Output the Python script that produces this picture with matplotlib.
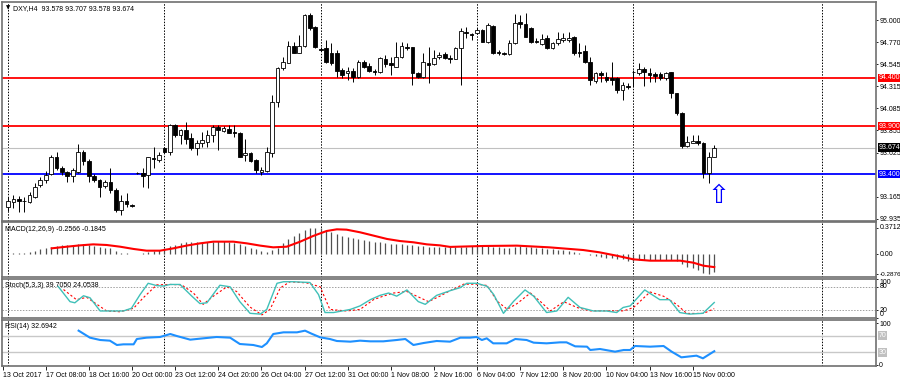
import matplotlib
matplotlib.use('Agg')
import matplotlib.pyplot as plt
from matplotlib.transforms import blended_transform_factory

# DXY H4 candles (bar 0 = 16 Oct 00:00)
opens = [93.062, 93.114, 93.138, 93.124, 93.114, 93.166, 93.287, 93.339, 93.401, 93.582,
         93.460, 93.419, 93.384, 93.426, 93.634, 93.537, 93.381, 93.339, 93.277, 93.322,
         93.235, 93.027, 93.124, 93.079, 93.415, 93.408, 93.391, 93.565, 93.547, 93.675,
         93.634, 93.911, 93.807, 93.859, 93.773, 93.668, 93.720, 93.738, 93.807, 93.894,
         93.852, 93.866, 93.838, 93.831, 93.599, 93.623, 93.547, 93.426, 93.436, 93.623,
         94.154, 94.500, 94.559, 94.733, 94.663, 94.733, 95.055, 94.927, 94.705, 94.709,
         94.663, 94.663, 94.483, 94.448, 94.476, 94.407, 94.563, 94.528, 94.476, 94.466,
         94.598, 94.552, 94.518, 94.622, 94.726, 94.719, 94.455, 94.407, 94.552, 94.546,
         94.622, 94.646, 94.604, 94.598, 94.709, 94.875, 94.857, 94.864, 94.899, 94.778,
         94.941, 94.674, 94.663, 94.646, 94.761, 94.986, 94.962, 94.917, 94.788, 94.754,
         94.819, 94.709, 94.761, 94.795, 94.795, 94.823, 94.674, 94.681, 94.570, 94.369,
         94.448, 94.414, 94.396, 94.396, 94.275, 94.320, 94.466, 94.455, 94.490, 94.448,
         94.442, 94.442, 94.396, 94.466, 94.240, 94.033, 93.693, 93.727, 93.748, 93.727,
         93.415, 93.578]
highs = [93.166, 93.183, 93.173, 93.166, 93.218, 93.311, 93.367, 93.436, 93.599, 93.634,
         93.485, 93.436, 93.460, 93.714, 93.651, 93.554, 93.401, 93.346, 93.339, 93.460,
         93.252, 93.183, 93.200, 93.086, 93.426, 93.460, 93.582, 93.686, 93.634, 93.686,
         93.921, 93.921, 93.866, 93.939, 93.825, 93.755, 93.842, 93.859, 93.911, 93.911,
         93.901, 93.911, 93.911, 93.842, 93.762, 93.634, 93.554, 93.478, 93.686, 94.223,
         94.518, 94.622, 94.788, 94.778, 94.847, 95.066, 95.073, 94.941, 94.726, 94.795,
         94.767, 94.691, 94.500, 94.518, 94.500, 94.587, 94.587, 94.552, 94.490, 94.615,
         94.639, 94.622, 94.771, 94.771, 94.761, 94.726, 94.466, 94.656, 94.719, 94.691,
         94.674, 94.674, 94.639, 94.726, 94.917, 94.934, 94.871, 94.917, 94.906, 94.968,
         94.951, 94.691, 94.674, 94.795, 95.066, 95.055, 95.073, 94.927, 94.812, 94.854,
         94.847, 94.778, 94.882, 94.864, 94.882, 94.837, 94.761, 94.743, 94.622, 94.466,
         94.476, 94.466, 94.570, 94.414, 94.362, 94.344, 94.483, 94.559, 94.518, 94.500,
         94.466, 94.466, 94.466, 94.466, 94.247, 94.050, 93.797, 93.807, 93.807, 93.738,
         93.634, 93.707]
lows = [93.020, 93.044, 93.010, 93.010, 93.096, 93.148, 93.270, 93.311, 93.391, 93.443,
        93.391, 93.322, 93.322, 93.408, 93.495, 93.322, 93.322, 93.166, 93.252, 93.207,
        93.010, 92.975, 93.055, 93.058, 93.401, 93.270, 93.252, 93.460, 93.530, 93.616,
        93.599, 93.790, 93.714, 93.714, 93.651, 93.599, 93.686, 93.686, 93.738, 93.651,
        93.842, 93.825, 93.790, 93.582, 93.540, 93.530, 93.415, 93.391, 93.426, 93.582,
        94.102, 94.483, 94.552, 94.656, 94.656, 94.726, 94.899, 94.709, 94.684, 94.552,
        94.535, 94.414, 94.396, 94.379, 94.362, 94.396, 94.500, 94.466, 94.431, 94.455,
        94.518, 94.431, 94.518, 94.604, 94.691, 94.327, 94.396, 94.396, 94.351, 94.535,
        94.594, 94.594, 94.552, 94.594, 94.327, 94.812, 94.795, 94.857, 94.778, 94.767,
        94.653, 94.639, 94.639, 94.639, 94.754, 94.917, 94.823, 94.767, 94.761, 94.743,
        94.698, 94.698, 94.743, 94.778, 94.778, 94.639, 94.622, 94.552, 94.327, 94.344,
        94.362, 94.362, 94.327, 94.240, 94.171, 94.282, 94.310, 94.431, 94.317, 94.362,
        94.362, 94.379, 94.379, 94.188, 94.015, 93.668, 93.686, 93.720, 93.703, 93.356,
        93.311, 93.578]
closes = [93.121, 93.138, 93.117, 93.117, 93.183, 93.270, 93.339, 93.391, 93.582, 93.460,
          93.426, 93.384, 93.443, 93.634, 93.540, 93.384, 93.339, 93.270, 93.322, 93.235,
          93.027, 93.124, 93.089, 93.065, 93.408, 93.384, 93.575, 93.554, 93.599, 93.634,
          93.911, 93.807, 93.859, 93.762, 93.668, 93.727, 93.755, 93.807, 93.894, 93.859,
          93.877, 93.831, 93.831, 93.582, 93.623, 93.540, 93.443, 93.443, 93.634, 94.154,
          94.500, 94.563, 94.733, 94.663, 94.733, 95.055, 94.917, 94.726, 94.695, 94.570,
          94.552, 94.476, 94.431, 94.476, 94.407, 94.570, 94.518, 94.476, 94.466, 94.604,
          94.542, 94.535, 94.615, 94.736, 94.709, 94.455, 94.414, 94.563, 94.535, 94.604,
          94.639, 94.604, 94.594, 94.709, 94.889, 94.864, 94.847, 94.899, 94.778, 94.951,
          94.656, 94.656, 94.650, 94.761, 94.975, 94.962, 94.830, 94.778, 94.771, 94.802,
          94.709, 94.767, 94.802, 94.812, 94.819, 94.656, 94.663, 94.570, 94.379, 94.448,
          94.431, 94.379, 94.379, 94.275, 94.327, 94.310, 94.462, 94.490, 94.466, 94.431,
          94.421, 94.396, 94.455, 94.240, 94.033, 93.693, 93.738, 93.748, 93.720, 93.408,
          93.582, 93.674]

# MACD(12,26,9) histogram per bar and signal line vertices
macd_hist = [0.005, 0.009, 0.014, 0.019, 0.028, 0.047, 0.066, 0.080, 0.103, 0.118,
             0.127, 0.122, 0.118, 0.136, 0.141, 0.127, 0.118, 0.103, 0.089, 0.080,
             0.047, 0.019, 0.009, -0.005, 0.002, 0.009, 0.024, 0.042, 0.061, 0.080,
             0.108, 0.127, 0.150, 0.165, 0.174, 0.174, 0.165, 0.165, 0.174, 0.179,
             0.179, 0.174, 0.160, 0.141, 0.118, 0.089, 0.066, 0.042, 0.024, 0.056,
             0.089, 0.150, 0.212, 0.254, 0.291, 0.338, 0.362, 0.371, 0.368, 0.338,
             0.306, 0.277, 0.259, 0.240, 0.221, 0.212, 0.197, 0.183, 0.174, 0.165,
             0.155, 0.146, 0.146, 0.136, 0.127, 0.127, 0.118, 0.113, 0.103, 0.103,
             0.099, 0.099, 0.094, 0.094, 0.099, 0.103, 0.108, 0.113, 0.108, 0.113,
             0.103, 0.094, 0.085, 0.085, 0.099, 0.108, 0.103, 0.099, 0.089, 0.085,
             0.075, 0.066, 0.061, 0.052, 0.042, 0.024, 0.014, 0.002, -0.019, -0.033,
             -0.042, -0.052, -0.061, -0.066, -0.075, -0.094, -0.099, -0.089, -0.085, -0.085,
             -0.085, -0.085, -0.085, -0.089, -0.099, -0.146, -0.179, -0.202, -0.230, -0.263,
             -0.2876, -0.2566]
sig_x = [8.1, 10.9, 13.4, 15.8, 18.3, 20.8, 23.3, 25.7, 28.2, 30.7, 33.1, 35.6, 38.1,
         41.8, 44.3, 46.8, 49.2, 51.7, 54.2, 56.6, 59.1, 61.0, 62.8, 65.3, 67.8, 70.3,
         72.7, 75.2, 77.7, 80.1, 82.0, 88.2, 94.4, 100.4, 106.7, 109.7, 112.9, 116.0,
         119.1, 124.7, 127.1, 129.0, 131.0]
sig_y = [0.080, 0.103, 0.122, 0.136, 0.127, 0.103, 0.071, 0.047, 0.047, 0.080, 0.118,
         0.150, 0.174, 0.174, 0.150, 0.118, 0.094, 0.103, 0.174, 0.254, 0.324, 0.348,
         0.343, 0.306, 0.259, 0.212, 0.183, 0.165, 0.136, 0.122, 0.100, 0.113, 0.118,
         0.094, 0.056, 0.024, -0.024, -0.075, -0.094, -0.094, -0.122, -0.165, -0.1845]

# Stochastic(5,3,3)
st_main_x = [9.3, 11.5, 12.4, 14.0, 15.2, 17.1, 18.9, 21.4, 22.9, 24.5, 26.0, 27.6, 28.8,
             30.1, 31.9, 34.1, 35.6, 36.9, 39.3, 41.2, 43.0, 44.9, 46.8, 48.0, 49.9, 51.1,
             52.9, 56.0, 57.6, 58.8, 60.4, 63.5, 65.3, 67.2, 69.0, 70.6, 72.1, 74.0, 76.1,
             77.4, 79.5, 82.0, 83.9, 85.1, 87.0, 88.9, 90.1, 91.9, 93.8, 95.9, 97.5, 99.9,
             101.8, 103.9, 106.1, 108.6, 111.0, 112.9, 114.1, 115.4, 118.1, 120.9, 122.7,
             124.6, 126.4, 128.9, 131.0]
st_main_y = [81, 42, 39, 57, 52, 18, 18, 18, 25, 60, 89, 83, 82, 86, 86, 56, 37, 39, 84,
             80, 42, 12, 10, 22, 89, 93, 93, 91, 60, 14, 14, 22, 31, 47, 58, 64, 56, 72,
             42, 35, 58, 70, 78, 89, 89, 81, 60, 12, 43, 72, 56, 14, 18, 53, 27, 18, 18,
             14, 27, 31, 72, 47, 47, 14, 10, 12, 39.705]
st_sig_x = [10.3, 12.7, 14.6, 16.5, 18.3, 20.8, 23.3, 25.1, 27.6, 30.1, 32.2, 34.4, 36.2,
            38.1, 40.6, 42.4, 44.9, 47.1, 48.6, 50.5, 52.3, 55.4, 57.9, 59.7, 62.8, 65.3,
            67.8, 69.6, 71.5, 74.0, 75.8, 78.0, 80.1, 82.0, 84.5, 87.0, 88.9, 90.7, 92.6,
            94.4, 96.9, 98.8, 100.6, 103.1, 105.6, 108.0, 111.7, 114.2, 116.0, 119.1,
            121.6, 124.0, 125.9, 129.0, 131.0]
st_sig_y = [73, 47, 53, 35, 18, 16, 25, 52, 85, 86, 85, 64, 35, 56, 80, 68, 28, 8, 22,
            77, 93, 90, 80, 22, 18, 22, 47, 56, 64, 68, 56, 42, 56, 70, 86.7, 86.7, 83.3,
            43.3, 22.5, 36.7, 64, 41.7, 18.3, 41.7, 26.7, 18.3, 18.3, 18.3, 26.7, 66.7,
            55.8, 35, 11.7, 11.7, 24.054]

# RSI(14)
rsi_x = [13.1, 15.2, 17.1, 18.9, 20.2, 21.4, 23.3, 23.9, 25.7, 28.2, 30.1, 31.3, 33.8,
         36.2, 38.7, 41.2, 43.0, 45.5, 47.1, 48.0, 49.2, 51.1, 53.6, 55.1, 56.3, 57.9,
         59.7, 61.0, 63.5, 65.3, 67.2, 69.6, 72.1, 73.7, 75.2, 77.1, 79.5, 82.0, 83.9,
         85.7, 86.9, 87.9, 88.8, 90.0, 92.5, 94.1, 96.2, 97.5, 99.9, 102.4, 103.6, 105.2,
         107.4, 108.0, 109.8, 112.6, 114.2, 115.4, 116.3, 119.1, 121.6, 123.1, 124.9,
         127.7, 128.9, 131.0]
rsi_y = [82, 65.2, 59.6, 58, 47.6, 49.2, 49.2, 62, 65.2, 66.8, 74, 69.2, 60.4, 63.6,
         66.8, 65.2, 50, 47.6, 42.8, 51.6, 74, 78, 78, 82, 74.8, 66, 62, 57.2, 55.6, 58,
         56.4, 56.4, 59.6, 62, 47.6, 52.4, 57.2, 55.6, 65.2, 65.2, 66.8, 59.6, 63.6, 51.6,
         51.6, 62, 59.6, 53.2, 51.6, 54, 54, 44.4, 43.6, 35.6, 38, 31.6, 35.6, 35.6, 45.2,
         43.6, 45.2, 31.6, 18, 22, 15.6, 32.694]

# horizontal levels on the price chart
red_levels = [94.400, 93.900]
blue_level = 93.400
last_price = 93.674
price_ticks = [95.000, 94.770, 94.545, 94.315, 94.085, 93.855, 93.625, 93.165, 92.935]

# weekly separators and time axis
separators = [0, 29, 58, 87, 116, 151]
time_pos = [-1, 7, 15, 23, 31, 39, 47, 55, 63, 71, 79, 87, 95, 103, 111, 119, 127]
time_labels = ['13 Oct 2017', '17 Oct 08:00', '18 Oct 16:00', '20 Oct 00:00',
               '23 Oct 12:00', '24 Oct 20:00', '26 Oct 04:00', '27 Oct 12:00',
               '31 Oct 00:00', '1 Nov 08:00', '2 Nov 16:00', '6 Nov 04:00',
               '7 Nov 12:00', '8 Nov 20:00', '10 Nov 04:00', '13 Nov 16:00',
               '15 Nov 00:00']

plt.rcParams['font.family'] = ['Liberation Sans', 'DejaVu Sans']
FS = 5.0
W, H = 900, 381


def rect(y0, y1):
    return [2 / W, 1 - y1 / H, 874 / W, (y1 - y0) / H]


fig = plt.figure(figsize=(W / 100, H / 100), dpi=100)
fig.patch.set_facecolor('white')
ax = fig.add_axes(rect(2, 221))
axm = fig.add_axes(rect(222, 277), sharex=ax)
axs = fig.add_axes(rect(279, 318), sharex=ax)
axr = fig.add_axes(rect(320, 366), sharex=ax)

for a in (ax, axm, axs, axr):
    a.set_xlim(-1.11, 161.0)
    a.yaxis.tick_right()
    a.tick_params(axis='y', labelsize=FS, length=1.5, pad=0.8, width=0.6)
    a.tick_params(axis='x', bottom=False, labelbottom=False)
    for s in a.spines.values():
        s.set_color('#707070')
        s.set_linewidth(1.2)
    for k in separators:
        a.axvline(k, color='black', lw=0.7, ls=(0, (1.5, 1.5)), zorder=1)


def right_label(a, y, s, va='center', size=FS):
    t = blended_transform_factory(a.transAxes, a.transData)
    a.text(1.004, y, s, transform=t, fontsize=size, va=va, ha='left', clip_on=False)


# ---- price candles
ax.set_ylim(92.913, 95.190)
for k in range(len(opens)):
    o, h, l, c = opens[k], highs[k], lows[k], closes[k]
    ax.vlines(k, l, h, color='black', lw=0.7, zorder=3)
    bot = min(o, c)
    ht = max(abs(c - o), 0.004)
    fc = 'white' if c >= o else 'black'
    ax.bar(k, ht, bottom=bot, width=0.68, facecolor=fc, edgecolor='black',
           linewidth=0.6, zorder=4)

for lv in red_levels:
    ax.axhline(lv, color='#FF0000', lw=1.3, zorder=2)
ax.axhline(blue_level, color='#0000FF', lw=1.3, zorder=2)
ax.axhline(last_price, color='#C0C0C0', lw=0.8, zorder=2)

ax.set_yticks(price_ticks)
ax.set_yticklabels(['%.3f' % v for v in price_ticks])

tr = blended_transform_factory(ax.transAxes, ax.transData)
box_levels = [(red_levels[0], '#FF0000'), (red_levels[1], '#FF0000'),
              (blue_level, '#0000FF'), (last_price, 'black')]
for lv, col in box_levels:
    ax.text(1.003, lv, '%.3f' % lv, transform=tr, fontsize=FS, color='white',
            va='center', ha='left', zorder=10, clip_on=False,
            bbox=dict(boxstyle='square,pad=0.12', fc=col, ec='none'))

ax.text(0.004, 0.985, '\u25bc', transform=ax.transAxes, fontsize=4, va='top',
        family='DejaVu Sans')
ax.text(0.013, 0.988, 'DXY,H4  93.578 93.707 93.578 93.674', transform=ax.transAxes,
        fontsize=FS, va='top')
ax.text(131.8, 93.17, '\u21e7', fontsize=19, color='#0000FF', ha='center',
        va='center', zorder=6, family='DejaVu Sans')

# ---- MACD
axm.set_ylim(-0.324, 0.451)
axm.vlines(range(len(macd_hist)), 0, macd_hist, color='#505050', lw=0.9, zorder=3)
axm.plot(sig_x, sig_y, color='#FF0000', lw=1.5, zorder=4)
axm.set_yticks([0.3712, 0.0, -0.2876])
axm.set_yticklabels([])
right_label(axm, 0.3712, '0.3712')
right_label(axm, 0.0, '0.00')
right_label(axm, -0.2876, '-0.2876', size=4.6)
axm.text(0.004, 0.93, 'MACD(12,26,9) -0.2566 -0.1845', transform=axm.transAxes,
         fontsize=FS, va='top')

# ---- Stochastic
axs.set_ylim(0, 100)
for lv in (80, 20):
    axs.axhline(lv, color='#A0A0A0', lw=0.7, ls=(0, (1.5, 1.5)), zorder=1)
axs.plot(st_main_x, st_main_y, color='#40C0B8', lw=1.0, zorder=4)
axs.plot(st_sig_x, st_sig_y, color='#FF0000', lw=0.8, ls=(0, (2, 2)), zorder=3)
axs.set_yticks([100, 80, 20, 0])
axs.set_yticklabels([])
right_label(axs, 100, '100', va='top')
right_label(axs, 80, '80', va='center')
right_label(axs, 20, '20', va='center')
right_label(axs, 0, '0', va='bottom')
axs.text(0.004, 0.93, 'Stoch(5,3,3) 39.7050 24.0538', transform=axs.transAxes,
         fontsize=FS, va='top')

# ---- RSI
axr.set_ylim(-2.8, 107.6)
for lv in (70, 30):
    axr.axhline(lv, color='#C8C8C8', lw=1.0, zorder=1)
axr.plot(rsi_x, rsi_y, color='#1E90FF', lw=1.5, zorder=4)
axr.set_yticks([100, 0])
trr = blended_transform_factory(axr.transAxes, axr.transData)
for lv in (70, 30):
    axr.text(1.003, lv, str(lv), transform=trr, fontsize=FS, color='white',
             va='center', ha='left', clip_on=False,
             bbox=dict(boxstyle='square,pad=0.12', fc='#C0C0C0', ec='none'))
axr.text(0.004, 0.93, 'RSI(14) 32.6942', transform=axr.transAxes, fontsize=FS,
         va='top')

axr.tick_params(axis='x', bottom=True, labelbottom=True, length=3, width=0.6,
                labelsize=FS, pad=1)
axr.set_xticks(time_pos)
axr.set_xticklabels(time_labels, ha='left')

fig.savefig('out.png', dpi=100)
